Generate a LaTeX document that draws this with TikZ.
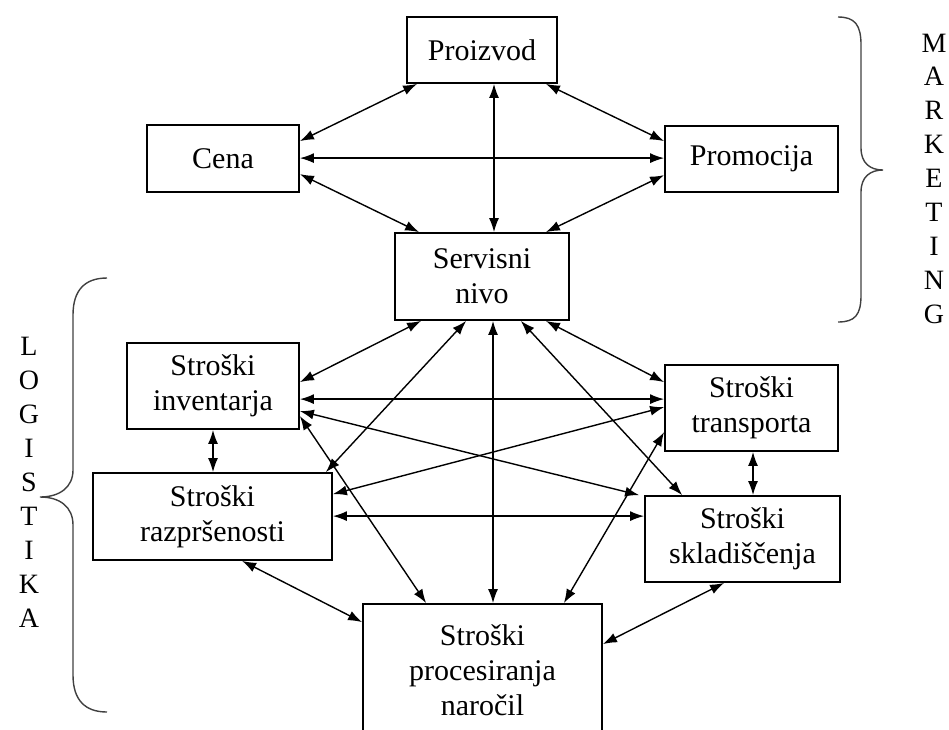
\documentclass[tikz,border=0pt]{standalone}
\usepackage{fontspec}
\setmainfont{Liberation Serif}
\usetikzlibrary{arrows.meta,calc}
\begin{document}
\begin{tikzpicture}[x=1pt,y=-1pt,
  >={Latex[length=14pt,width=10pt]},
  box/.style={draw,line width=1.8pt,align=center,inner sep=0pt,
    font=\fontsize{30}{35}\selectfont},
  arr/.style={<->,line width=1.4pt},
  brace/.style={line width=1.4pt,black!75},
  letter/.style={anchor=base,inner sep=0pt,font=\fontsize{28}{34}\selectfont}]
\useasboundingbox (0,0) rectangle (949,729);
\clip (0,0) rectangle (949,729);
% nodes
\node[box,minimum width=150pt,minimum height=66pt] (pro) at (482,50) {Proizvod};
\node[box,minimum width=152pt,minimum height=67pt] (cen) at (223,158.5) {Cena};
\node[box,minimum width=173pt,minimum height=66pt] (prm) at (751.5,159) {Promocija};
\node[box,minimum width=174pt,minimum height=87pt] (ser) at (482,276.5) {Servisni\\nivo};
\node[box,minimum width=172pt,minimum height=86pt] (inv) at (213,386) {Stroški\\inventarja};
\node[box,minimum width=239pt,minimum height=87pt] (raz) at (212.5,516.5) {Stroški\\razpršenosti};
\node[box,minimum width=173pt,minimum height=86pt] (tra) at (751.5,408) {Stroški\\transporta};
\node[box,minimum width=195pt,minimum height=86pt] (skl) at (742.5,539) {Stroški\\skladiščenja};
\node[box,minimum width=239pt,minimum height=132pt] (prc) at (482.5,670) {Stroški\\procesiranja\\naročil};
% connectors
\draw[arr] ($(pro.south west)+(11,0)$) -- ($(cen.north east)+(0,17)$);
\draw[arr] ($(pro.south)+(12,0)$) -- ($(ser.north)+(12,0)$);
\draw[arr] ($(pro.south east)+(-12,0)$) -- ($(prm.north west)+(0,16)$);
\draw[arr] ($(cen.north east)+(0,34)$) -- ($(prm.north west)+(0,33)$);
\draw[arr] ($(cen.north east)+(0,50)$) -- ($(ser.north west)+(25,0)$);
\draw[arr] ($(prm.north west)+(0,50)$) -- ($(ser.north east)+(-24,0)$);
\draw[arr] ($(ser.south west)+(27,0)$) -- ($(inv.north east)+(0,40)$);
\draw[arr] ($(ser.south west)+(72,0)$) -- ($(raz.north east)+(-7,0)$);
\draw[arr] ($(ser.south)+(11,0)$) -- ($(prc.north)+(10.5,0)$);
\draw[arr] ($(ser.south east)+(-49,0)$) -- ($(skl.north west)+(38,0)$);
\draw[arr] ($(ser.south east)+(-24,0)$) -- ($(tra.north west)+(0,18)$);
\draw[arr] ($(inv.north east)+(0,57)$) -- ($(tra.north west)+(0,35)$);
\draw[arr] ($(inv.north east)+(0,69)$) -- ($(skl.north west)+(-5,0)$);
\draw[arr] ($(inv.north east)+(0,74)$) -- ($(prc.north west)+(64,0)$);
\draw[arr] (inv.south) -- ($(raz.north)+(0.5,0)$);
\draw[arr] ($(raz.north east)+(0,22)$) -- ($(tra.north west)+(0,43)$);
\draw[arr] ($(raz.north east)+(0,44)$) -- ($(skl.north west)+(0,21)$);
\draw[arr] ($(raz.south west)+(150,0)$) -- ($(prc.north west)+(0,19)$);
\draw[arr] ($(tra.south)+(1.5,0)$) -- ($(skl.north)+(10.5,0)$);
\draw[arr] ($(tra.north west)+(0,68)$) -- ($(prc.north east)+(-39,0)$);
\draw[arr] ($(skl.south west)+(80,0)$) -- ($(prc.north east)+(0,41)$);
% braces
\draw[brace] (838,17) .. controls (855,17) and (861,25) .. (861,45) -- (861,148)
  .. controls (861,163) and (870,170) .. (883,170)
  .. controls (870,170) and (861,177) .. (861,192) -- (861,295)
  .. controls (861,315) and (855,322) .. (838,322);
\draw[brace] (107,278) .. controls (85,278) and (73,290) .. (73,315) -- (73,470)
  .. controls (73,487) and (60,497) .. (40,497)
  .. controls (60,497) and (73,507) .. (73,525) -- (73,675)
  .. controls (73,700) and (85,712) .. (107,712);
% letters
\foreach \c [count=\i from 0] in {M,A,R,K,E,T,I,N,G}
  \node[letter] (mk\i) at (934,52+33.9*\i) {\c};
\foreach \c [count=\i from 0] in {L,O,G,I,S,T,I,K,A}
  \node[letter] (lg\i) at (29,355+34*\i) {\c};
\end{tikzpicture}
\end{document}
